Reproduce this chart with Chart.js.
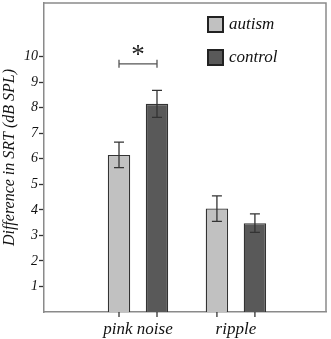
<!DOCTYPE html>
<html>
<head>
<meta charset="utf-8">
<script src="https://cdn.jsdelivr.net/npm/chart.js@4.4.1/dist/chart.umd.min.js"></script>
<style>
  html, body { margin: 0; padding: 0; background: #fff; }
</style>
</head>
<body>
<canvas id="chartCanvas" width="331" height="339"></canvas>
<script>
// data
const categories = ['pink noise', 'ripple']
const groups = ['autism', 'control']
const autism = [6.15, 4.05]
const control = [8.15, 3.48]
const autismErr = [0.5, 0.5]
const controlErr = [0.53, 0.36]
const yTicks = [1, 2, 3, 4, 5, 6, 7, 8, 9, 10]
const sigLevel = 9.72
const sigMark = '*'

const serif = 'Liberation Serif'
const colors = ['#c1c1c1', '#595959']
const errors = [autismErr, controlErr]

// box round the plot area
const boxPlugin = {
  id: 'box',
  afterDraw(chart) {
    const a = chart.chartArea, ctx = chart.ctx
    ctx.save()
    ctx.strokeStyle = '#8a8a8a'
    ctx.lineWidth = 1.5
    ctx.beginPath()
    ctx.moveTo(a.left, a.top)
    ctx.lineTo(a.right, a.top)
    ctx.lineTo(a.right, a.bottom)
    ctx.stroke()
    ctx.restore()
  }
}

// error bars, x ticks under each bar, bracket with star
const extrasPlugin = {
  id: 'extras',
  afterDatasetsDraw(chart) {
    const ctx = chart.ctx, y = chart.scales.y, a = chart.chartArea
    ctx.save()
    ctx.strokeStyle = '#333'
    ctx.lineWidth = 1.3
    chart.data.datasets.forEach((ds, d) => {
      chart.getDatasetMeta(d).data.forEach((bar, i) => {
        const v = ds.data[i].y, e = errors[d][i]
        const t = y.getPixelForValue(v + e), b = y.getPixelForValue(v - e)
        ctx.beginPath()
        ctx.moveTo(bar.x, t); ctx.lineTo(bar.x, b)
        ctx.moveTo(bar.x - 5, t); ctx.lineTo(bar.x + 5, t)
        ctx.moveTo(bar.x - 5, b); ctx.lineTo(bar.x + 5, b)
        ctx.stroke()
        // tick mark under the bar
        ctx.beginPath()
        ctx.moveTo(bar.x, a.bottom); ctx.lineTo(bar.x, a.bottom + 5)
        ctx.stroke()
      })
    })
    // significance bracket over pink noise
    const x1 = chart.getDatasetMeta(0).data[0].x
    const x2 = chart.getDatasetMeta(1).data[0].x
    const sy = y.getPixelForValue(sigLevel)
    ctx.strokeStyle = '#555'
    ctx.beginPath()
    ctx.moveTo(x1, sy); ctx.lineTo(x2, sy)
    ctx.moveTo(x1, sy - 4); ctx.lineTo(x1, sy + 4)
    ctx.moveTo(x2, sy - 4); ctx.lineTo(x2, sy + 4)
    ctx.stroke()
    ctx.fillStyle = '#222'
    ctx.font = '27px "' + serif + '"'
    ctx.textAlign = 'center'
    ctx.textBaseline = 'middle'
    ctx.fillText(sigMark, (x1 + x2) / 2, sy - 8)
    ctx.restore()
  }
}

// legend in the top right corner
const legendPlugin = {
  id: 'boxLegend',
  afterDraw(chart) {
    const ctx = chart.ctx
    ctx.save()
    groups.forEach((g, i) => {
      const top = 17 + i * 33
      ctx.fillStyle = colors[i]
      ctx.fillRect(208, top, 15, 15)
      ctx.strokeStyle = '#222'
      ctx.lineWidth = 2
      ctx.strokeRect(208, top, 15, 15)
      ctx.fillStyle = '#111'
      ctx.font = 'italic 17px "' + serif + '"'
      ctx.textAlign = 'left'
      ctx.textBaseline = 'middle'
      ctx.fillText(g, 229, top + 8)
    })
    ctx.restore()
  }
}

const chart = new Chart(document.getElementById('chartCanvas'), {
  type: 'bar',
  data: {
    datasets: groups.map((g, d) => ({
      label: g,
      data: categories.map((c, i) => ({ x: i + 1, y: [autism, control][d][i] })),
      backgroundColor: colors[d],
      borderColor: '#333',
      borderWidth: 1.3,
      categoryPercentage: 0.776,
      barPercentage: 0.59
    }))
  },
  options: {
    responsive: false,
    animation: false,
    devicePixelRatio: 1,
    layout: { padding: { left: 0, top: 3, right: 5, bottom: 0 } },
    plugins: { legend: { display: false }, tooltip: { enabled: false } },
    scales: {
      x: {
        type: 'linear',
        offset: false,
        min: 0.04,
        max: 2.92,
        afterBuildTicks: s => { s.ticks = categories.map((c, i) => ({ value: i + 1 })) },
        afterFit: s => { s.height = 27; s.paddingLeft = 0; s.paddingRight = 0 },
        grid: { display: true, drawOnChartArea: false, drawTicks: false, tickLength: 0 },
        border: { color: '#8a8a8a', width: 1.5 },
        ticks: {
          padding: 7,
          color: '#111',
          font: { family: serif, size: 17, style: 'italic' },
          callback: v => categories[v - 1] || ''
        }
      },
      y: {
        min: 0,
        max: 12.1,
        afterBuildTicks: s => { s.ticks = yTicks.map(v => ({ value: v })) },
        afterFit: s => { s.width = 44; s.paddingTop = 0; s.paddingBottom = 0 },
        grid: { drawOnChartArea: false, tickLength: 5, tickColor: '#333', tickWidth: 1.3 },
        border: { color: '#8a8a8a', width: 1.5 },
        ticks: {
          padding: 1,
          color: '#111',
          font: { family: serif, size: 14, style: 'italic' }
        },
        title: {
          display: true,
          text: 'Difference in SRT (dB SPL)',
          color: '#111',
          padding: { top: 0, bottom: 0 },
          font: { family: serif, size: 16, style: 'italic' }
        }
      }
    }
  },
  plugins: [boxPlugin, extrasPlugin, legendPlugin]
})
</script>
</body>
</html>
